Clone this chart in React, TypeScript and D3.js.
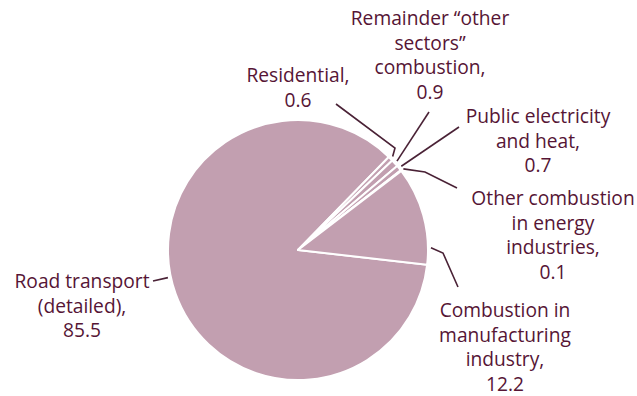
import React from "react";
import * as d3 from "d3";

const categories = [
  "Road transport (detailed)",
  "Residential",
  "Remainder “other sectors” combustion",
  "Public electricity and heat",
  "Other combustion in energy industries",
  "Combustion in manufacturing industry",
];
const values = [85.5, 0.6, 0.9, 0.7, 0.1, 12.2];
const labelLines = [
  ["Road transport", "(detailed),"],
  ["Residential,"],
  ["Remainder “other", "sectors”", "combustion,"],
  ["Public electricity", "and heat,"],
  ["Other combustion", "in energy", "industries,"],
  ["Combustion in", "manufacturing", "industry,"],
];

// layout for annotations (positions only)
const labelPos = [
  { x: 82, y: 288 },
  { x: 298, y: 82 },
  { x: 430, y: 25 },
  { x: 538, y: 123 },
  { x: 553, y: 205 },
  { x: 505, y: 317 },
];
const leaderPts: [number, number][][] = [
  [[153, 281]],
  [[336, 104], [395, 148]],
  [[429, 112]],
  [[459, 127]],
  [[457, 188], [425, 172]],
  [[458, 287], [443, 253]],
];
// angle (deg, d3 convention) where each leader touches the pie; null = slice middle
const leaderAngle: (number | null)[] = [258, null, null, null, null, 89];

const W = 637;
const H = 396;
const cx = 298;
const cy = 250;
const R = 130;
const endDeg = 96.5;
const fill = "#c29fb0";
const textColor = "#561535";
const lineColor = "#4a2236";
const FS = 20;
const SX = 0.96;
const LH = 24.6;

export default function App() {
  const pie = d3
    .pie<number>()
    .sort(null)
    .value((d) => d)
    .startAngle(((endDeg - 360) * Math.PI) / 180)
    .endAngle((endDeg * Math.PI) / 180);
  const arcs = pie(values);
  const arc = d3.arc<d3.PieArcDatum<number>>().innerRadius(0).outerRadius(R);
  const line = d3.line();
  const fmt = d3.format(".1f");

  return (
    <svg
      width={W}
      height={H}
      style={{ position: "absolute", left: 0, top: 0, background: "#fff" }}
    >
      <g transform={`translate(${cx},${cy})`}>
        {arcs.map((a, i) => (
          <path
            key={categories[i]}
            d={arc(a) || ""}
            fill={fill}
            stroke="#fff"
            strokeWidth={2}
            strokeLinejoin="round"
          />
        ))}
      </g>
      {arcs.map((a, i) => {
        const ang =
          leaderAngle[i] != null
            ? (leaderAngle[i]! * Math.PI) / 180
            : (a.startAngle + a.endAngle) / 2;
        const rr = R + 3;
        const end: [number, number] = [cx + rr * Math.sin(ang), cy - rr * Math.cos(ang)];
        const pts = [...leaderPts[i], end];
        return (
          <path
            key={"l" + i}
            d={line(pts) || ""}
            fill="none"
            stroke={lineColor}
            strokeWidth={1.6}
          />
        );
      })}
      {labelLines.map((ls, i) => {
        const all = [...ls, fmt(values[i])];
        return (
          <g key={"t" + i}>
            {all.map((t, j) => (
              <text
                key={j}
                transform={`translate(${labelPos[i].x},${labelPos[i].y + j * LH}) scale(${SX},1)`}
                textAnchor="middle"
                fontFamily="'Open Sans', sans-serif"
                fontWeight={500}
                fontSize={FS}
                fill={textColor}
              >
                {t}
              </text>
            ))}
          </g>
        );
      })}
    </svg>
  );
}
